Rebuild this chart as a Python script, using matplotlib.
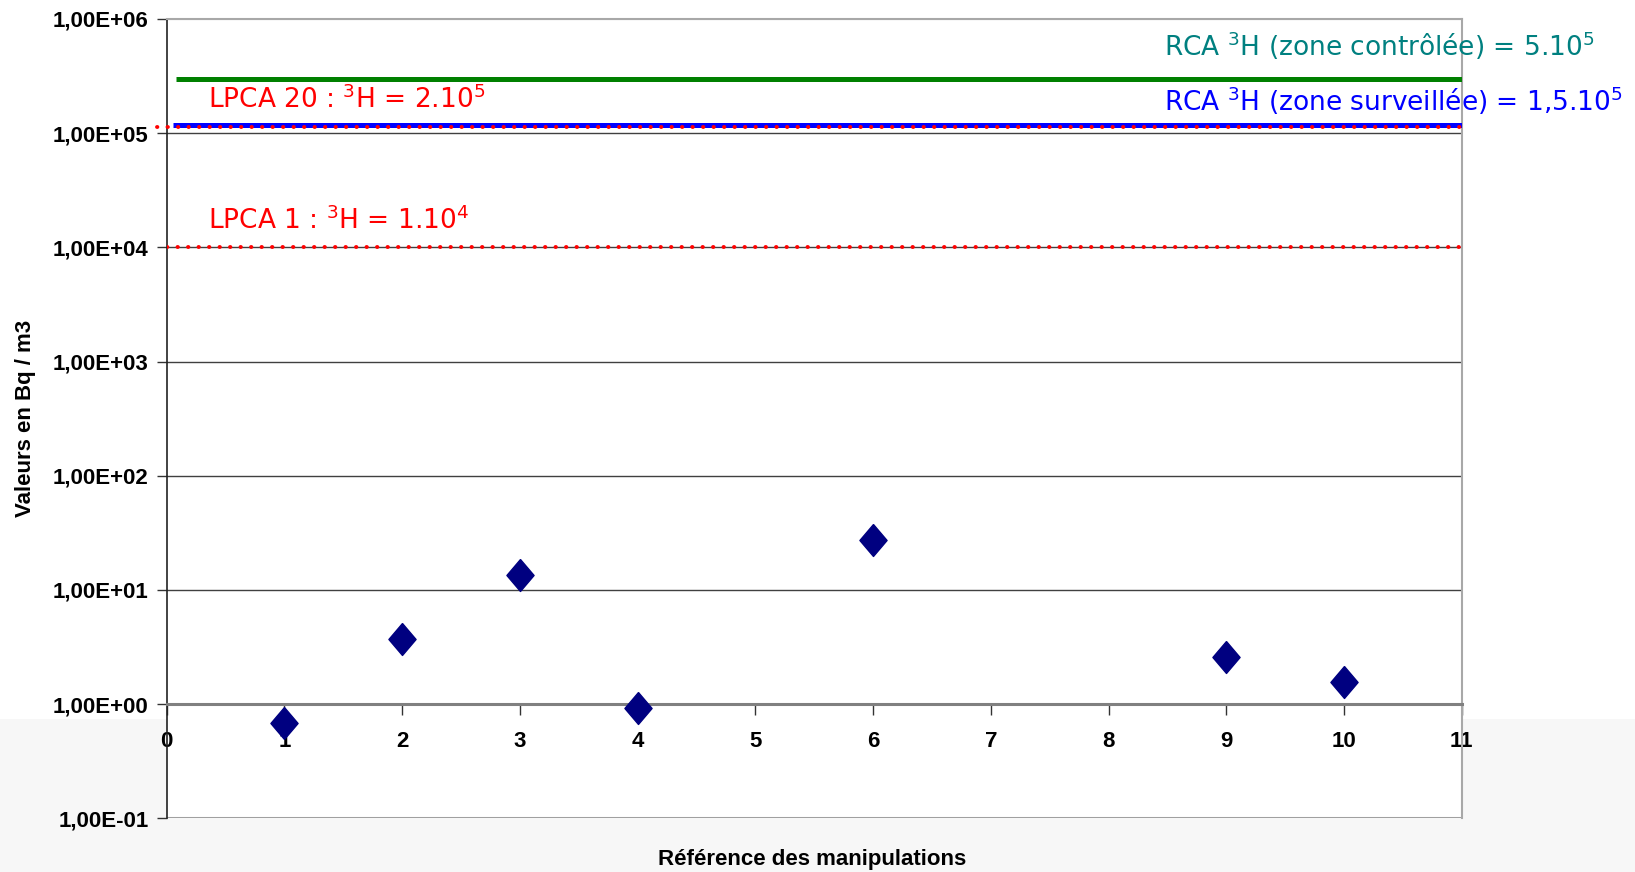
import numpy as np
import matplotlib
matplotlib.use("Agg")
import matplotlib.pyplot as plt
from matplotlib.patches import Rectangle

# mesures (Bq/m3) par reference de manipulation
manip_ref = [1, 2, 3, 4, 6, 9, 10]
manip_val = [0.69, 3.7, 13.5, 0.92, 27.5, 2.6, 1.55]

# seuils
rca_controlee = 3.0e5
rca_surveillee = 1.18e5
lpca_20 = 1.12e5
lpca_1 = 1.0e4

y_ticks = [1e-1, 1e0, 1e1, 1e2, 1e3, 1e4, 1e5, 1e6]
y_labels = ["1,00E-01", "1,00E+00", "1,00E+01", "1,00E+02",
            "1,00E+03", "1,00E+04", "1,00E+05", "1,00E+06"]
x_ticks = list(range(0, 12))

plt.rcParams['font.family'] = ['Liberation Sans', 'DejaVu Sans']
plt.rcParams['mathtext.default'] = 'regular'

fig = plt.figure(figsize=(16.35, 8.72), dpi=100)
# fond gris clair en bas (capture d'ecran)
fig.patches.append(Rectangle((0, 0), 1, 0.175, transform=fig.transFigure,
                             facecolor='#f7f7f7', edgecolor='none', zorder=-5))
ax = fig.add_axes([0.102, 0.0614, 0.792, 0.917])
ax.set_yscale('log')
ax.set_xlim(0, 11)
ax.set_ylim(1e-1, 1e6)

# l'axe des x croise a 1
ax.spines['bottom'].set_position(('data', 1))
ax.spines['bottom'].set_color('#808080')
ax.spines['bottom'].set_linewidth(2.2)
ax.spines['left'].set_color('#222222')
ax.spines['left'].set_linewidth(1.2)
ax.spines['top'].set_color('#a8a8a8')
ax.spines['top'].set_linewidth(1.5)
ax.spines['right'].set_color('#a8a8a8')
ax.spines['right'].set_linewidth(1.5)

ax.hlines(rca_controlee, 0.08, 11, color='#008000', lw=3.6, zorder=3)
ax.hlines(rca_surveillee, 0.05, 11, color='#0000ff', lw=3.6, zorder=3)
ax.hlines(lpca_20, -0.08, 11, color='#ff0000', lw=2.8, linestyles=[(0, (0.1, 2.6))],
          capstyle='round', clip_on=False, zorder=4)
ax.hlines(lpca_1, 0, 11, color='#ff0000', lw=2.8, linestyles=[(0, (0.1, 2.6))],
          capstyle='round', zorder=4)

diamond = [(0, 1), (0.85, 0), (0, -1), (-0.85, 0), (0, 1)]
ax.plot(manip_ref, manip_val, marker=diamond, color='#000080', markersize=23,
        ls='none', zorder=5, clip_on=False)

ax.set_yticks(y_ticks)
ax.set_yticklabels(y_labels, fontsize=16, fontweight='bold')
ax.yaxis.set_minor_locator(matplotlib.ticker.NullLocator())
ax.set_xticks(x_ticks)
ax.set_xticklabels([str(t) for t in x_ticks], fontsize=16, fontweight='bold')
ax.tick_params(axis='x', direction='out', length=8, width=1, color='#333333', pad=11,
               labelsize=16)
ax.tick_params(axis='y', direction='out', length=7, width=1, color='#333333', pad=6)

ax.grid(axis='y', color='#404040', lw=1)
gl = ax.get_ygridlines()
gl[0].set_color('#a0a0a0')
gl[0].set_linewidth(2.2)
gl[-1].set_color('#a8a8a8')
gl[-1].set_linewidth(1.5)
ax.set_axisbelow(True)

ax.set_ylabel("Valeurs en Bq / m3", fontsize=16, fontweight='bold', labelpad=12)
fig.text(0.497, 0.0145, "Référence des manipulations", fontsize=16,
         fontweight='bold', ha='center', va='center')

ann = dict(fontsize=19, va='baseline', family=['DejaVu Sans'], clip_on=False)
ax.text(0.354, 1.67e5, "LPCA 20 : $^{3}$H = 2.10$^{5}$", color='#ff0000', **ann)
ax.text(0.354, 1.45e4, "LPCA 1 : $^{3}$H = 1.10$^{4}$", color='#ff0000', **ann)
ax.text(8.47, 4.77e5, "RCA $^{3}$H (zone contrôlée) = 5.10$^{5}$", color='#008080', **ann)
ax.text(8.47, 1.57e5, "RCA $^{3}$H (zone surveillée) = 1,5.10$^{5}$", color='#0000ff', **ann)

fig.savefig("out.png", dpi=100)
